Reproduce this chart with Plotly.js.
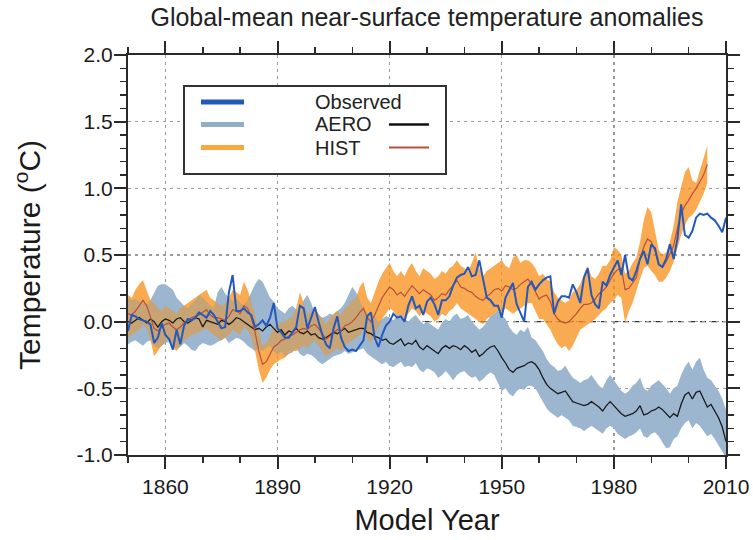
<!DOCTYPE html>
<html>
<head>
<meta charset="utf-8">
<script src="https://cdn.plot.ly/plotly-3.0.1.min.js"></script>
<style>
  html, body { margin: 0; padding: 0; background: #fff; }
  #chart { width: 753px; height: 540px; }
</style>
</head>
<body>
<div id="chart"></div>
<script>
// ---------------- data ----------------
const obsStart = 1850;   // Observed: 1850-2010
const histStart = 1850;  // HIST: 1850-2005
const aeroStart = 1850;  // AERO: 1850-2010

const observed = [
  -0.07, 0.05, 0.04, 0.02, 0.01, 0.00, -0.02, -0.16, -0.12, -0.01,
  -0.10, -0.13, -0.21, -0.06, -0.17, -0.03, 0.02, 0.01, 0.03, 0.07,
  0.05, 0.03, 0.08, 0.05, 0.00, -0.05, -0.04, 0.22, 0.35, 0.08,
  0.08, 0.10, 0.07, 0.05, -0.04, -0.02, 0.01, -0.03, 0.03, 0.14,
  -0.05, -0.08, -0.12, -0.12, -0.08, -0.04, 0.12, 0.10, -0.05, 0.03,
  0.11, 0.00, -0.10, -0.17, -0.20, -0.05, 0.04, -0.12, -0.19, -0.22,
  -0.21, -0.22, -0.18, -0.14, 0.04, 0.07, -0.12, -0.19, -0.10, -0.03,
  0.00, 0.06, 0.03, 0.04, 0.00, 0.12, 0.19, 0.10, 0.12, 0.05,
  0.15, 0.18, 0.13, 0.05, 0.16, 0.16, 0.19, 0.27, 0.33, 0.35,
  0.36, 0.41, 0.34, 0.35, 0.46, 0.32, 0.18, 0.16, 0.12, 0.12,
  0.03, 0.18, 0.23, 0.29, 0.13, 0.06, 0.00, 0.26, 0.30, 0.24,
  0.28, 0.31, 0.33, 0.34, 0.06, 0.15, 0.19, 0.19, 0.18, 0.28,
  0.22, 0.14, 0.33, 0.40, 0.20, 0.13, 0.10, 0.30, 0.27, 0.35,
  0.40, 0.46, 0.35, 0.50, 0.33, 0.31, 0.38, 0.47, 0.53, 0.43,
  0.58, 0.55, 0.43, 0.41, 0.47, 0.58, 0.47, 0.62, 0.88, 0.65,
  0.63, 0.68, 0.78, 0.81, 0.80, 0.81, 0.78, 0.76, 0.72, 0.67, 0.78
];

const histMean = [
  0.06, 0.05, 0.08, 0.12, 0.16, 0.12, 0.03, -0.05, -0.07, -0.04,
  -0.02, -0.01, -0.04, -0.06, -0.04, -0.01, 0.01, 0.03, 0.04, 0.05,
  0.07, 0.09, 0.05, 0.03, 0.03, 0.02, 0.01, 0.04, 0.09, 0.08,
  0.06, 0.12, 0.10, 0.03, -0.08, -0.22, -0.32, -0.30, -0.24, -0.19,
  -0.17, -0.14, -0.13, -0.11, -0.10, -0.08, -0.06, -0.05, -0.06, -0.03,
  -0.02, -0.05, -0.09, -0.13, -0.11, -0.08, -0.06, -0.07, -0.03, -0.02,
  0.00, 0.03, 0.07, 0.10, 0.03, 0.00, 0.05, 0.12, 0.18, 0.22,
  0.26, 0.24, 0.20, 0.22, 0.19, 0.23, 0.27, 0.24, 0.21, 0.24,
  0.22, 0.20, 0.16, 0.18, 0.21, 0.20, 0.24, 0.27, 0.31, 0.26,
  0.25, 0.23, 0.22, 0.19, 0.17, 0.16, 0.19, 0.21, 0.24, 0.25,
  0.23, 0.27, 0.26, 0.24, 0.25, 0.28, 0.30, 0.32, 0.28, 0.22,
  0.17, 0.19, 0.20, 0.15, 0.06, 0.02, 0.00, -0.01, 0.00, 0.03,
  0.06, 0.10, 0.13, 0.13, 0.14, 0.17, 0.21, 0.23, 0.26, 0.31,
  0.36, 0.39, 0.40, 0.24, 0.25, 0.29, 0.33, 0.47, 0.56, 0.62,
  0.60, 0.53, 0.43, 0.41, 0.45, 0.51, 0.57, 0.70, 0.81, 0.87,
  0.91, 0.96, 1.00, 1.05, 1.10, 1.18
];

const histHigh = [
  0.20, 0.18, 0.24, 0.28, 0.31, 0.24, 0.16, 0.14, 0.10, 0.08,
  0.12, 0.10, 0.08, 0.06, 0.10, 0.12, 0.14, 0.16, 0.18, 0.20,
  0.22, 0.24, 0.18, 0.16, 0.14, 0.12, 0.14, 0.18, 0.24, 0.22,
  0.20, 0.30, 0.24, 0.15, 0.05, -0.08, -0.18, -0.16, -0.10, -0.05,
  -0.03, 0.00, 0.00, 0.02, 0.04, 0.10, 0.22, 0.14, 0.05, 0.08,
  0.10, 0.06, 0.02, -0.02, 0.02, 0.06, 0.08, 0.05, 0.10, 0.12,
  0.16, 0.18, 0.26, 0.30, 0.18, 0.14, 0.22, 0.30, 0.36, 0.40,
  0.44, 0.38, 0.34, 0.38, 0.34, 0.40, 0.44, 0.38, 0.34, 0.40,
  0.38, 0.36, 0.32, 0.34, 0.38, 0.36, 0.40, 0.42, 0.46, 0.42,
  0.40, 0.38, 0.44, 0.52, 0.40, 0.34, 0.38, 0.40, 0.42, 0.44,
  0.46, 0.42, 0.40, 0.48, 0.50, 0.44, 0.46, 0.46, 0.44, 0.40,
  0.34, 0.36, 0.32, 0.30, 0.22, 0.18, 0.16, 0.14, 0.16, 0.22,
  0.24, 0.28, 0.36, 0.42, 0.34, 0.32, 0.36, 0.42, 0.42, 0.46,
  0.56, 0.54, 0.50, 0.36, 0.38, 0.44, 0.48, 0.60, 0.76, 0.86,
  0.82, 0.68, 0.54, 0.50, 0.52, 0.60, 0.72, 0.90, 1.02, 1.12,
  1.16, 1.06, 1.04, 1.14, 1.22, 1.32
];

const histLow = [
  -0.12, -0.10, -0.08, -0.06, -0.02, -0.05, -0.14, -0.26, -0.22, -0.18,
  -0.15, -0.12, -0.20, -0.22, -0.18, -0.14, -0.12, -0.10, -0.09, -0.08,
  -0.06, -0.05, -0.08, -0.10, -0.12, -0.14, -0.12, -0.10, -0.06, -0.08,
  -0.10, -0.04, -0.06, -0.12, -0.22, -0.36, -0.46, -0.42, -0.36, -0.32,
  -0.30, -0.28, -0.27, -0.24, -0.22, -0.22, -0.20, -0.18, -0.20, -0.16,
  -0.14, -0.18, -0.22, -0.26, -0.24, -0.22, -0.20, -0.22, -0.18, -0.16,
  -0.14, -0.12, -0.10, -0.06, -0.12, -0.16, -0.10, -0.04, 0.02, 0.06,
  0.10, 0.08, 0.04, 0.06, 0.02, 0.06, 0.10, 0.08, 0.04, 0.08,
  0.06, 0.04, 0.00, 0.02, 0.06, 0.04, 0.08, 0.10, 0.14, 0.10,
  0.08, 0.06, 0.04, 0.02, 0.00, -0.02, 0.02, 0.04, 0.06, 0.08,
  0.06, 0.10, 0.08, 0.06, 0.08, 0.10, 0.12, 0.14, 0.14, 0.08,
  0.02, 0.02, -0.02, -0.06, -0.12, -0.17, -0.20, -0.18, -0.22, -0.18,
  -0.12, -0.06, -0.04, -0.02, 0.00, 0.02, 0.05, 0.08, 0.10, 0.14,
  0.16, 0.20, 0.18, -0.01, 0.08, 0.14, 0.22, 0.32, 0.40, 0.42,
  0.38, 0.35, 0.30, 0.30, 0.33, 0.38, 0.45, 0.55, 0.65, 0.72,
  0.78, 0.80, 0.84, 0.90, 0.96, 1.04
];

const aeroMean = [
  0.00, -0.01, 0.01, 0.03, 0.01, -0.01, 0.02, 0.00, -0.04, 0.00,
  0.02, 0.01, -0.01, 0.02, 0.03, 0.00, -0.01, 0.01, 0.03, 0.02,
  -0.04, 0.01, 0.00, -0.01, -0.02, 0.01, 0.00, -0.02, 0.00, 0.03,
  0.02, 0.00, -0.02, -0.04, -0.06, -0.05, -0.07, -0.04, -0.02, -0.05,
  -0.08, -0.06, -0.10, -0.07, -0.08, -0.05, -0.08, -0.09, -0.07, -0.10,
  -0.09, -0.12, -0.13, -0.12, -0.10, -0.08, -0.09, -0.07, -0.05, -0.08,
  -0.07, -0.06, -0.05, -0.05, -0.08, -0.09, -0.11, -0.12, -0.14, -0.13,
  -0.16, -0.17, -0.15, -0.13, -0.18, -0.16, -0.17, -0.14, -0.19, -0.21,
  -0.18, -0.20, -0.22, -0.24, -0.20, -0.18, -0.20, -0.18, -0.19, -0.21,
  -0.18, -0.20, -0.23, -0.21, -0.26, -0.24, -0.21, -0.19, -0.18, -0.22,
  -0.27, -0.31, -0.36, -0.38, -0.35, -0.34, -0.33, -0.31, -0.30, -0.32,
  -0.36, -0.42, -0.47, -0.50, -0.52, -0.54, -0.53, -0.52, -0.56, -0.60,
  -0.61, -0.62, -0.63, -0.62, -0.60, -0.62, -0.64, -0.67, -0.63, -0.60,
  -0.63, -0.66, -0.69, -0.71, -0.70, -0.69, -0.67, -0.63, -0.70, -0.69,
  -0.67, -0.66, -0.64, -0.66, -0.69, -0.72, -0.69, -0.71, -0.62, -0.55,
  -0.53, -0.58, -0.53, -0.52, -0.58, -0.64, -0.62, -0.67, -0.72, -0.79, -0.90
];

const aeroHigh = [
  0.18, 0.16, 0.17, 0.15, 0.14, 0.13, 0.16, 0.22, 0.27, 0.28,
  0.28, 0.26, 0.24, 0.18, 0.15, 0.12, 0.10, 0.13, 0.16, 0.20,
  0.18, 0.15, 0.12, 0.10, 0.22, 0.26, 0.21, 0.18, 0.15, 0.17,
  0.14, 0.12, 0.16, 0.22, 0.28, 0.32, 0.30, 0.24, 0.18, 0.15,
  0.10, 0.08, 0.06, 0.10, 0.12, 0.09, 0.06, 0.16, 0.20, 0.14,
  0.06, 0.05, 0.03, 0.04, 0.06, 0.05, 0.08, 0.10, 0.14, 0.20,
  0.26, 0.22, 0.16, 0.10, 0.06, 0.02, 0.04, 0.00, 0.02, 0.04,
  0.03, 0.01, 0.04, 0.06, 0.02, 0.00, 0.03, 0.05, 0.01, -0.02,
  0.00, -0.02, -0.04, -0.06, -0.01, 0.02, 0.00, 0.04, 0.06, 0.02,
  0.03, 0.05, 0.00, -0.03, -0.06, -0.04, 0.00, 0.04, 0.06, 0.08,
  0.05, 0.02, -0.04, -0.08, -0.10, -0.06, -0.08, -0.04, -0.12, -0.14,
  -0.18, -0.22, -0.28, -0.32, -0.34, -0.37, -0.36, -0.33, -0.38, -0.42,
  -0.44, -0.46, -0.44, -0.43, -0.40, -0.44, -0.48, -0.50, -0.44, -0.40,
  -0.44, -0.48, -0.52, -0.54, -0.52, -0.48, -0.46, -0.42, -0.50, -0.52,
  -0.48, -0.46, -0.44, -0.47, -0.50, -0.54, -0.50, -0.48, -0.40, -0.34,
  -0.30, -0.36, -0.30, -0.27, -0.36, -0.42, -0.44, -0.48, -0.52, -0.58, -0.66
];

const aeroLow = [
  -0.17, -0.15, -0.14, -0.16, -0.18, -0.15, -0.14, -0.18, -0.20, -0.18,
  -0.16, -0.15, -0.18, -0.20, -0.19, -0.16, -0.18, -0.21, -0.22, -0.18,
  -0.16, -0.17, -0.18, -0.17, -0.15, -0.14, -0.12, -0.16, -0.14, -0.12,
  -0.13, -0.15, -0.18, -0.20, -0.22, -0.20, -0.22, -0.19, -0.18, -0.22,
  -0.25, -0.22, -0.26, -0.24, -0.23, -0.20, -0.24, -0.26, -0.24, -0.25,
  -0.27, -0.30, -0.32, -0.30, -0.28, -0.26, -0.25, -0.24, -0.22, -0.24,
  -0.23, -0.22, -0.21, -0.20, -0.24, -0.26, -0.28, -0.30, -0.32, -0.30,
  -0.33, -0.34, -0.32, -0.30, -0.34, -0.33, -0.34, -0.31, -0.36, -0.38,
  -0.35, -0.36, -0.38, -0.42, -0.40, -0.37, -0.40, -0.44, -0.40, -0.38,
  -0.37, -0.40, -0.42, -0.41, -0.45, -0.43, -0.40, -0.38, -0.40, -0.46,
  -0.52, -0.50, -0.54, -0.56, -0.52, -0.50, -0.51, -0.48, -0.48, -0.50,
  -0.54, -0.60, -0.65, -0.68, -0.70, -0.72, -0.70, -0.72, -0.74, -0.78,
  -0.79, -0.80, -0.82, -0.80, -0.78, -0.80, -0.82, -0.84, -0.80, -0.78,
  -0.80, -0.84, -0.86, -0.88, -0.86, -0.85, -0.83, -0.80, -0.86, -0.87,
  -0.84, -0.83, -0.86, -0.90, -0.95, -0.94, -0.88, -0.86, -0.80, -0.76,
  -0.74, -0.80, -0.76, -0.78, -0.82, -0.86, -0.84, -0.88, -0.92, -0.97, -1.02
];

const xTickVals = [1860, 1890, 1920, 1950, 1980, 2010];
const yTickVals = [-1.0, -0.5, 0.0, 0.5, 1.0, 1.5, 2.0];

// ---------------- helpers ----------------
function yearsFrom(start, n) { const a = []; for (let i = 0; i < n; i++) a.push(start + i); return a; }
const obsYears = yearsFrom(obsStart, observed.length);
const histYears = yearsFrom(histStart, histMean.length);
const aeroYears = yearsFrom(aeroStart, aeroMean.length);

function band(years, hi, lo) {
  return { x: years.concat(years.slice().reverse()), y: hi.concat(lo.slice().reverse()) };
}
const aeroBand = band(aeroYears, aeroHigh, aeroLow);
const histBand = band(histYears, histHigh, histLow);

const FONT = 'Liberation Sans, Arial, Helvetica, sans-serif';
const AX = '#2a2a2a';
const AERO_FILL = 'rgb(155,182,206)';

const traces = [
  // AERO spread (opaque steel blue)
  { type: 'scatter', mode: 'lines', x: aeroBand.x, y: aeroBand.y, fill: 'toself',
    fillcolor: AERO_FILL, line: { width: 0 }, hoverinfo: 'skip', showlegend: false },
  // HIST spread (translucent orange)
  { type: 'scatter', mode: 'lines', x: histBand.x, y: histBand.y, fill: 'toself',
    fillcolor: 'rgba(248,142,22,0.75)', line: { width: 0 }, hoverinfo: 'skip', showlegend: false },
  // thin AERO wash on top so overlaps turn khaki (AERO-only areas unchanged)
  { type: 'scatter', mode: 'lines', x: aeroBand.x, y: aeroBand.y, fill: 'toself',
    fillcolor: 'rgba(155,182,206,0.35)', line: { width: 0 }, hoverinfo: 'skip', showlegend: false },
  { type: 'scatter', mode: 'lines', x: aeroYears, y: aeroMean, name: 'AERO',
    line: { color: '#1a1a1a', width: 1.3 }, showlegend: false },
  { type: 'scatter', mode: 'lines', x: histYears, y: histMean, name: 'HIST',
    line: { color: '#b8503e', width: 1.2 }, showlegend: false },
  { type: 'scatter', mode: 'lines', x: obsYears, y: observed, name: 'Observed',
    line: { color: '#2359bd', width: 2 }, showlegend: false }
];

// plot-area pixel box used to place the hand-made legend
const L = 128, R = 726, T = 55, B = 455;
const px = v => (v - L) / (R - L);
const py = v => (B - v) / (B - T);

const shapes = [
  { type: 'line', xref: 'paper', yref: 'y', x0: 0, x1: 1, y0: 0, y1: 0,
    line: { color: '#333', width: 1.4, dash: '6px,5px' }, layer: 'between' },
  { type: 'rect', xref: 'paper', yref: 'paper', x0: px(184), x1: px(446), y0: py(174), y1: py(86),
    line: { color: '#333', width: 2 }, fillcolor: '#ffffff', layer: 'above' },
  { type: 'line', xref: 'paper', yref: 'paper', x0: px(201), x1: px(244), y0: py(102), y1: py(102),
    line: { color: '#2359bd', width: 5 }, layer: 'above' },
  { type: 'line', xref: 'paper', yref: 'paper', x0: px(201), x1: px(244), y0: py(124.5), y1: py(124.5),
    line: { color: '#92adc6', width: 5 }, layer: 'above' },
  { type: 'line', xref: 'paper', yref: 'paper', x0: px(201), x1: px(244), y0: py(147.5), y1: py(147.5),
    line: { color: '#fba73e', width: 5 }, layer: 'above' },
  { type: 'line', xref: 'paper', yref: 'paper', x0: px(389), x1: px(429), y0: py(124.5), y1: py(124.5),
    line: { color: '#111', width: 2.5 }, layer: 'above' },
  { type: 'line', xref: 'paper', yref: 'paper', x0: px(389), x1: px(429), y0: py(147.5), y1: py(147.5),
    line: { color: '#b8503e', width: 2 }, layer: 'above' }
];

const legendFont = { family: FONT, size: 20, color: '#222' };
const annotations = [
  { xref: 'paper', yref: 'paper', x: px(313), y: py(102), text: 'Observed', showarrow: false,
    xanchor: 'left', yanchor: 'middle', font: legendFont },
  { xref: 'paper', yref: 'paper', x: px(313), y: py(124.5), text: 'AERO', showarrow: false,
    xanchor: 'left', yanchor: 'middle', font: legendFont },
  { xref: 'paper', yref: 'paper', x: px(313), y: py(147.5), text: 'HIST', showarrow: false,
    xanchor: 'left', yanchor: 'middle', font: legendFont }
];

const axisCommon = {
  showline: true, linecolor: AX, linewidth: 2, mirror: 'allticks',
  ticks: 'outside', ticklen: 12, tickwidth: 2, tickcolor: AX,
  showgrid: true, gridcolor: '#9a9a9a', gridwidth: 1.3, griddash: '3px,4px',
  zeroline: false, tickfont: { family: FONT, size: 21, color: '#1a1a1a' }
};

const layout = {
  width: 753, height: 540,
  margin: { l: L, r: 753 - R, t: T, b: 540 - B },
  paper_bgcolor: '#ffffff', plot_bgcolor: '#ffffff',
  showlegend: false,
  title: { text: 'Global-mean near-surface temperature anomalies',
    font: { family: FONT, size: 25, color: '#222' },
    xref: 'paper', x: 0.5, xanchor: 'center', yref: 'container', y: 1 - 17 / 540, yanchor: 'middle' },
  xaxis: Object.assign({}, axisCommon, {
    range: [1850, 2010], tickmode: 'array', tickvals: xTickVals,
    ticktext: xTickVals.map(String),
    minor: { dtick: 10, tick0: 1850, ticks: 'outside', ticklen: 6, tickwidth: 1.5, tickcolor: AX, showgrid: false },
    title: { text: 'Model Year', font: { family: FONT, size: 29, color: '#1a1a1a' }, standoff: 12 }
  }),
  yaxis: Object.assign({}, axisCommon, {
    range: [-1, 2], tickmode: 'array', tickvals: yTickVals,
    ticktext: yTickVals.map(v => v.toFixed(1)),
    ticklabelstandoff: -3,
    minor: { dtick: 0.1, tick0: 0, ticks: 'outside', ticklen: 6, tickwidth: 1.5, tickcolor: AX, showgrid: false },
    title: { text: 'Temperature (<sup>o</sup>C)', font: { family: FONT, size: 30, color: '#1a1a1a' }, standoff: 27 }
  }),
  shapes: shapes,
  annotations: annotations
};

Plotly.newPlot('chart', traces, layout, { displayModeBar: false, staticPlot: true });
</script>
</body>
</html>
